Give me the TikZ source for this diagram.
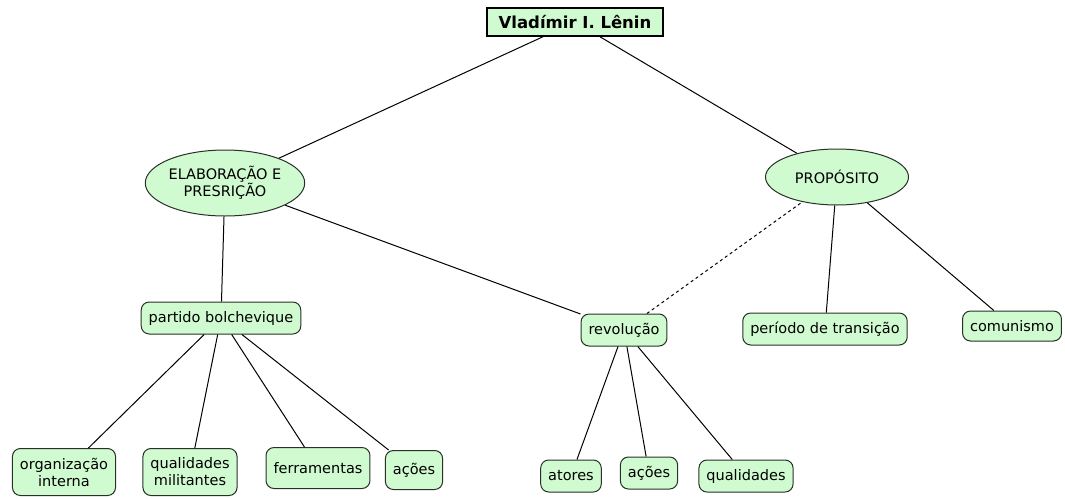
\documentclass[tikz,border=0pt]{standalone}
\usepackage{fontspec}
\setmainfont{DejaVu Sans}
\usetikzlibrary{shapes.geometric}
\definecolor{mapgreen}{RGB}{208,250,208}
\definecolor{mapedge}{RGB}{40,48,40}
\tikzset{
  titlebox/.style={draw, line width=1.4pt, fill=mapgreen, inner sep=3pt, minimum height=28pt,
    font=\fontsize{16.5}{19}\selectfont\bfseries},
  themeoval/.style={draw=mapedge, line width=1pt, fill=mapgreen, ellipse, align=center, inner sep=0pt,
    font=\fontsize{14.5}{17}\selectfont},
  conceptbox/.style={draw=mapedge, line width=1pt, fill=mapgreen, rounded corners=8pt, align=center,
    inner xsep=7.5pt, inner ysep=5pt, minimum height=32pt, font=\fontsize{14.5}{17}\selectfont},
  link/.style={draw, line width=1pt}
}
\begin{document}
\begin{tikzpicture}[x=1pt,y=-1pt]
\useasboundingbox (0,0) rectangle (1065,498);

\node[titlebox, minimum width=176pt] (lenin) at (575,22) {Vladímir I. Lênin};

\node[themeoval, minimum width=155pt, minimum height=66pt] (elab) at (225,183) {ELABORAÇÃO E\\PRESRIÇÃO};
\node[themeoval, minimum width=143pt, minimum height=56pt] (prop) at (837,177) {PROPÓSITO};

\node[conceptbox] (partido) at (221,318) {partido bolchevique};
\node[conceptbox] (revol) at (624,330) {revolução};
\node[conceptbox] (transic) at (825,329) {período de transição};
\node[conceptbox, minimum height=30pt] (comun) at (1012,326) {comunismo};

\node[conceptbox, minimum height=47pt] (organiz) at (64,472) {organização\\interna};
\node[conceptbox, minimum height=47pt] (qualmil) at (190,472) {qualidades\\militantes};
\node[conceptbox, minimum height=41pt] (ferram) at (318,468) {ferramentas};
\node[conceptbox, minimum height=39pt] (acoesp) at (414,470) {ações};

\node[conceptbox] (atores) at (571,476) {atores};
\node[conceptbox] (acoesr) at (649,473) {ações};
\node[conceptbox] (qualid) at (746,476) {qualidades};

\draw[link] (lenin) -- (elab);
\draw[link] (lenin) -- (prop);
\draw[link] (elab) -- (partido);
\draw[link] (elab) -- (revol);
\draw[link, dashed] (revol) -- (prop);
\draw[link] (prop) -- (transic);
\draw[link] (prop) -- (comun);

\draw[link] (partido) -- (organiz);
\draw[link] (partido) -- (qualmil);
\draw[link] (partido) -- (ferram);
\draw[link] (partido) -- (acoesp);

\draw[link] (revol) -- (atores);
\draw[link] (revol) -- (acoesr);
\draw[link] (revol) -- (qualid);

\end{tikzpicture}
\end{document}
